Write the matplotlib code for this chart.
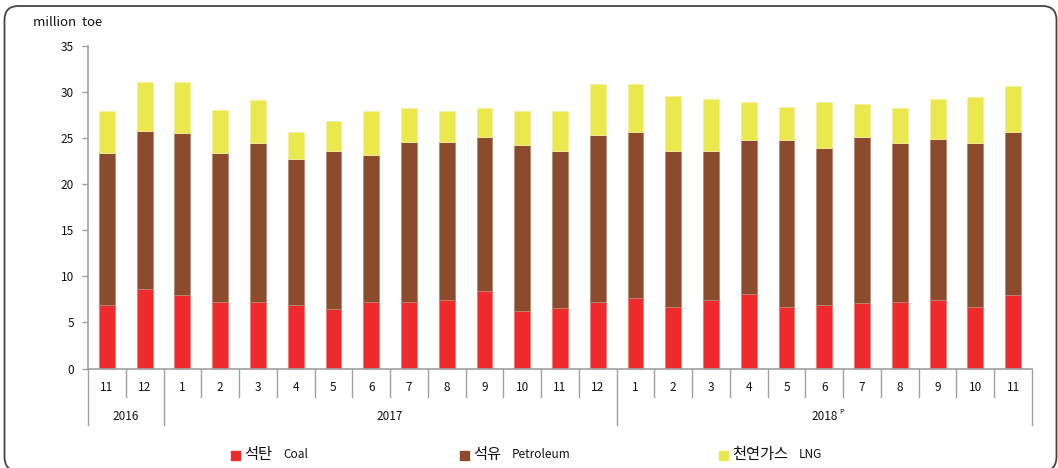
import matplotlib
matplotlib.use("Agg")
import matplotlib.pyplot as plt
from matplotlib.patches import FancyBboxPatch, Rectangle
from matplotlib.lines import Line2D
from matplotlib.transforms import IdentityTransform
import numpy as np

plt.rcParams['font.family'] = ['Noto Sans CJK KR', 'DejaVu Sans']

months = ["11", "12", "1", "2", "3", "4", "5", "6", "7", "8", "9", "10", "11", "12",
          "1", "2", "3", "4", "5", "6", "7", "8", "9", "10", "11"]
years = ["2016", "2017", "2018"]
year_counts = [2, 12, 11]

coal = [6.9, 8.6, 8.0, 7.2, 7.2, 6.9, 6.4, 7.2, 7.2, 7.4, 8.4, 6.2, 6.6, 7.2,
        7.6, 6.7, 7.4, 8.1, 6.7, 6.9, 7.1, 7.2, 7.4, 6.7, 8.0]
petroleum = [16.5, 17.2, 17.5, 16.2, 17.2, 15.8, 17.2, 16.0, 17.4, 17.2, 16.7, 18.0, 17.0, 18.1,
             18.0, 16.9, 16.2, 16.7, 18.1, 17.0, 18.0, 17.2, 17.5, 17.7, 17.6]
lng = [4.5, 5.3, 5.6, 4.6, 4.7, 2.9, 3.2, 4.7, 3.6, 3.3, 3.1, 3.7, 4.3, 5.5,
       5.3, 6.0, 5.6, 4.1, 3.6, 5.0, 3.6, 3.8, 4.3, 5.0, 5.0]

series_labels = [("석탄", "Coal"), ("석유", "Petroleum"), ("천연가스", "LNG")]
colors = ["#EE2A2C", "#8B4B2C", "#EBE84E"]
edge_colors = ["#F07A72", "#B88870", "#F4F0A0"]

W, H = 1058, 468
fig = plt.figure(figsize=(W / 100, H / 100), dpi=100)

# rounded frame (display pixel coordinates, origin bottom-left)
frame = FancyBboxPatch((4.5, -3), 1052, 465,
                       boxstyle="round,pad=0,rounding_size=14",
                       transform=IdentityTransform(), fill=False,
                       edgecolor="#444444", linewidth=1.3)
fig.patches.append(frame)

left, right = 88 / W, 1032 / W
bottom, top = (H - 368.5) / H, (H - 45.7) / H
ax = fig.add_axes([left, bottom, right - left, top - bottom])

x = np.arange(len(months))
width = 0.42
b = np.zeros(len(months))
for vals, c, ec in zip([coal, petroleum, lng], colors, edge_colors):
    ax.bar(x, vals, width, bottom=b, color=c, edgecolor=ec, linewidth=0.6, zorder=2)
    b = b + np.array(vals)

ax.set_xlim(-0.5, len(months) - 0.5)
ax.set_ylim(0, 35)
ax.set_yticks(np.arange(0, 36, 5))
ax.tick_params(axis='y', direction='out', length=4, width=1, color="#A0A0A0",
               labelsize=8.5, pad=6, labelcolor="#111111")
ax.set_xticks([])
for s in ["top", "right"]:
    ax.spines[s].set_visible(False)
for s in ["left", "bottom"]:
    ax.spines[s].set_color("#A0A0A0")
    ax.spines[s].set_linewidth(1.2)

# category axis: month labels, separators, year labels
trans = ax.get_xaxis_transform()
ah = 368.5 - 45.7
short = (397 - 368.5) / ah
long_ = (425 - 368.5) / ah
group_edges = set(np.cumsum([0] + year_counts))
for i in range(len(months) + 1):
    ln = long_ if i in group_edges else short
    ax.add_line(Line2D([i - 0.5, i - 0.5], [0, -ln], transform=trans,
                       color="#A0A0A0", linewidth=1.0, clip_on=False))
for i, m in enumerate(months):
    ax.text(i, -(387.5 - 368.5) / ah, m, transform=trans,
            ha="center", va="center", fontsize=8.5, color="#111111")
start = 0
for yr, n in zip(years, year_counts):
    cx = start + (n - 1) / 2
    ax.text(cx, -(416.5 - 368.5) / ah, yr, transform=trans,
            ha="center", va="center", fontsize=8.5, color="#111111")
    if yr == "2018":
        ax.text(cx + 0.40, -(412.5 - 368.5) / ah, "P", transform=trans,
                ha="left", va="center", fontsize=5, color="#111111")
    start += n

# unit label
fig.text(33 / W, 1 - 23 / H, "million  toe", ha="left", va="center",
         fontsize=9.5, color="#111111")

# legend
leg_y = 1 - 455 / H
sq_x = [231, 460, 719]
fig.canvas.draw()
renderer = fig.canvas.get_renderer()
for sx, c, (ko, en) in zip(sq_x, colors, series_labels):
    fig.patches.append(Rectangle((sx / W, leg_y - 4.5 / H), 9 / W, 9 / H,
                                 transform=fig.transFigure, color=c))
    t = fig.text((sx + 13) / W, leg_y, ko, ha="left", va="center", fontsize=11,
                 color="#111111")
    bb = t.get_window_extent(renderer=renderer)
    fig.text((bb.x1 + 11) / W, leg_y, en, ha="left", va="center",
             fontsize=8.5, color="#111111")

fig.savefig("out.png", dpi=100)
